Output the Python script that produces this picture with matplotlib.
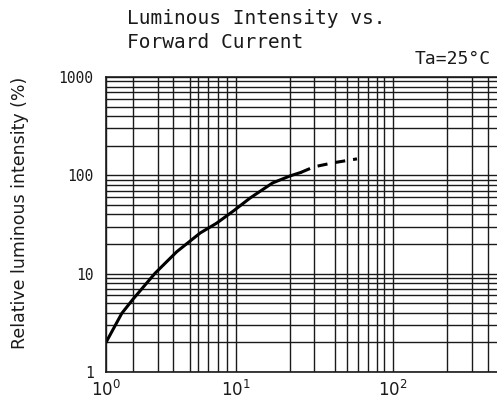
import numpy as np
import matplotlib
matplotlib.use("Agg")
import matplotlib.pyplot as plt
from matplotlib.ticker import FixedLocator, FixedFormatter, NullFormatter

# ---- data ----
current_solid = [1.0, 1.5, 2.0, 2.86, 4.2, 6.2, 7.85, 9.7, 12.0, 16.0, 20.0, 24.0]
intensity_solid = [2.0, 3.95, 5.5, 10.1, 16.7, 25.9, 32.6, 43.4, 58.9, 83.7, 98.6, 107.0]
current_dashed = [24.0, 30.0, 38.9, 59.0]
intensity_dashed = [107.0, 122.0, 134.0, 147.0]

x_ticks = [1, 10, 100]
x_ticklabels = [r"$10^{0}$", r"$10^{1}$", r"$10^{2}$"]
y_ticks = [1, 10, 100, 1000]
y_ticklabels = ["1", "10", "100", "1000"]
x_minor = [m * d for d in (1, 10, 100) for m in range(2, 10)]
y_minor = [m * d for d in (1, 10, 100) for m in range(2, 10)]

# calibration of the (hand-drawn, not exactly logarithmic) current axis:
# axis value -> position along the axis
calib_values = [0.1, 1, 2, 3, 4, 5, 6, 7, 8, 9, 10, 20, 30, 40, 50, 60, 70, 80, 90,
                100, 200, 300, 400, 500, 10000]
calib_pos = [-24, 106, 133, 158, 173, 190, 198, 208, 218, 227, 236, 290, 314, 335, 347,
             358, 368, 377, 384, 393, 447, 472, 488, 503.7, 707]
_lv = np.log10(calib_values)
_lp = np.array(calib_pos, dtype=float)

def fwd(x):
    lx = np.log10(np.clip(np.asarray(x, dtype=float), 1e-10, None))
    return np.interp(lx, _lv, _lp)

def inv(u):
    return 10 ** np.interp(np.asarray(u, dtype=float), _lp, _lv)

W, H = 497, 407
fig = plt.figure(figsize=(W / 100, H / 100), dpi=100)

left_px, right_px, bottom_px, top_px = 106, 503.7, 372, 77
ax = fig.add_axes([left_px / W, (H - bottom_px) / H,
                   (right_px - left_px) / W, (bottom_px - top_px) / H])
ax.set_xscale('function', functions=(fwd, inv))
ax.set_yscale('log')
ax.set_xlim(1, 500)
ax.set_ylim(1, 1000)

ax.xaxis.set_major_locator(FixedLocator(x_ticks))
ax.xaxis.set_major_formatter(FixedFormatter(x_ticklabels))
ax.xaxis.set_minor_locator(FixedLocator(x_minor))
ax.xaxis.set_minor_formatter(NullFormatter())
ax.yaxis.set_major_locator(FixedLocator(y_ticks))
ax.yaxis.set_major_formatter(FixedFormatter(y_ticklabels))
ax.yaxis.set_minor_locator(FixedLocator(y_minor))
ax.yaxis.set_minor_formatter(NullFormatter())

ax.grid(which='both', color='#1a1a1a', linewidth=1.0)
ax.tick_params(which='both', length=0, colors='#1a1a1a')
ax.tick_params(axis='x', pad=6, labelsize=12)
ax.tick_params(axis='y', pad=9, labelsize=10.5)
for lab in ax.get_yticklabels():
    lab.set_family('DejaVu Sans Mono')
for s in ('left', 'bottom', 'top'):
    ax.spines[s].set_color('#1a1a1a')
    ax.spines[s].set_linewidth(1.2)
ax.spines['right'].set_visible(False)

ax.plot(current_solid, intensity_solid, color='black', lw=2.2, solid_capstyle='round')
ax.plot(current_dashed, intensity_dashed, color='black', lw=2.2, linestyle=(0, (3.3, 2.6)))

fig.text(20 / W, 1 - 213 / H, "Relative luminous intensity (%)", rotation=90,
         ha='center', va='center', fontsize=12.5, color='#1a1a1a')

fig.text(127 / W, 1 - 9 / H, "Luminous Intensity vs.\nForward Current",
         ha='left', va='top', fontsize=14, family='DejaVu Sans Mono',
         color='#1a1a1a', linespacing=1.3)
fig.text(491 / W, 1 - 59 / H, "Ta=25°C", ha='right', va='center', fontsize=13,
         family='DejaVu Sans Mono', color='#1a1a1a')

fig.savefig("out.png", dpi=100)
